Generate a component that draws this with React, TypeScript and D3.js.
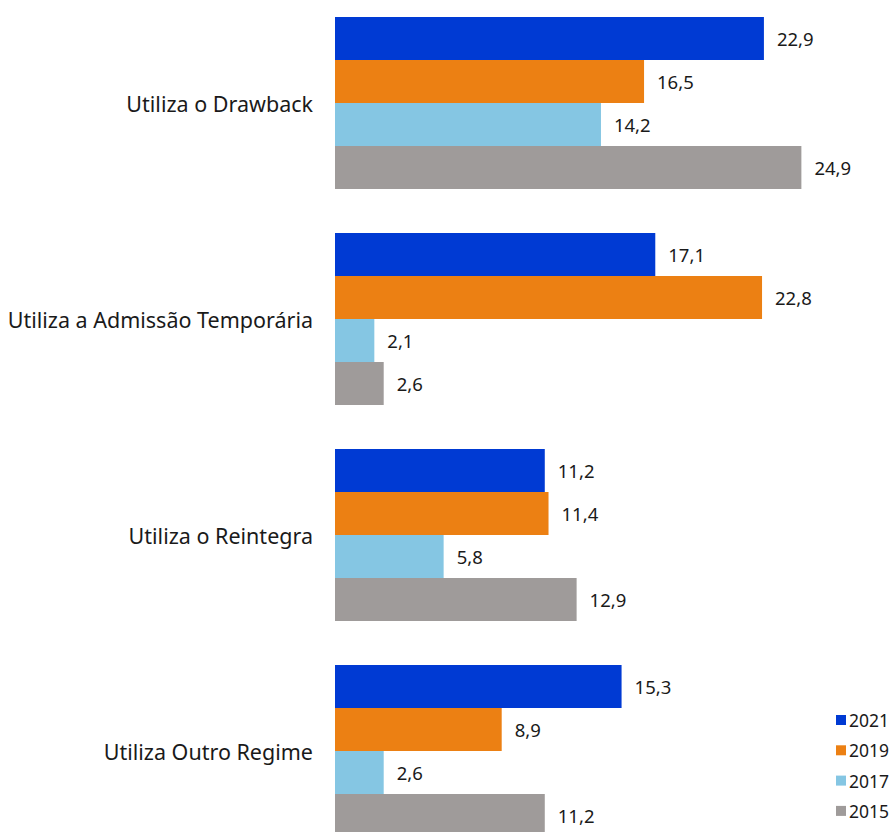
import React from "react";
import * as d3 from "d3";

const categories = [
  "Utiliza o Drawback",
  "Utiliza a Admissão Temporária",
  "Utiliza o Reintegra",
  "Utiliza Outro Regime",
];
const seriesNames = ["2021", "2019", "2017", "2015"];
const values2021 = [22.9, 17.1, 11.2, 15.3];
const values2019 = [16.5, 22.8, 11.4, 8.9];
const values2017 = [14.2, 2.1, 5.8, 2.6];
const values2015 = [24.9, 2.6, 12.9, 11.2];
const colors = ["#003AD3", "#EC8013", "#85C6E3", "#9F9B9A"];

const W = 893;
const H = 832;
const FONT = "'Noto Sans', 'Open Sans', sans-serif";

export default function App() {
  const series = [values2021, values2019, values2017, values2015];
  const x = d3.scaleLinear().domain([0, 25]).range([335, 335 + 25 * 18.73]);
  const y = d3
    .scaleBand<string>()
    .domain(categories)
    .range([17, 837])
    .paddingInner(44 / 216)
    .paddingOuter(0);
  const inner = d3
    .scaleBand<string>()
    .domain(seriesNames)
    .range([0, y.bandwidth()])
    .padding(0);
  const fmt = (v: number) => v.toFixed(1).replace(".", ",");

  return (
    <svg
      width={W}
      height={H}
      style={{ position: "absolute", left: 0, top: 0, background: "#fff" }}
      fontFamily={FONT}
    >
      {categories.map((c, ci) => (
        <g key={c}>
          <text
            x={313}
            y={(y(c) as number) + y.bandwidth() / 2}
            textAnchor="end"
            dominantBaseline="central"
            fontSize={21.5}
            fill="#1a1a1a"
          >
            {c}
          </text>
          {seriesNames.map((s, si) => {
            const v = series[si][ci];
            const yy = (y(c) as number) + (inner(s) as number);
            return (
              <g key={s}>
                <rect
                  x={x(0)}
                  y={yy}
                  width={x(v) - x(0)}
                  height={inner.bandwidth()}
                  fill={colors[si]}
                />
                <text
                  x={x(v) + 13}
                  y={yy + inner.bandwidth() / 2}
                  dominantBaseline="central"
                  fontSize={18.5}
                  fill="#1a1a1a"
                >
                  {fmt(v)}
                </text>
              </g>
            );
          })}
        </g>
      ))}
      {seriesNames.map((s, si) => (
        <g key={s} transform={`translate(836, ${720 + si * 30.3})`}>
          <rect x={0} y={-5} width={10} height={10} fill={colors[si]} />
          <text
            x={13}
            y={0}
            dominantBaseline="central"
            fontSize={17.5}
            fill="#1a1a1a"
          >
            {s}
          </text>
        </g>
      ))}
    </svg>
  );
}
